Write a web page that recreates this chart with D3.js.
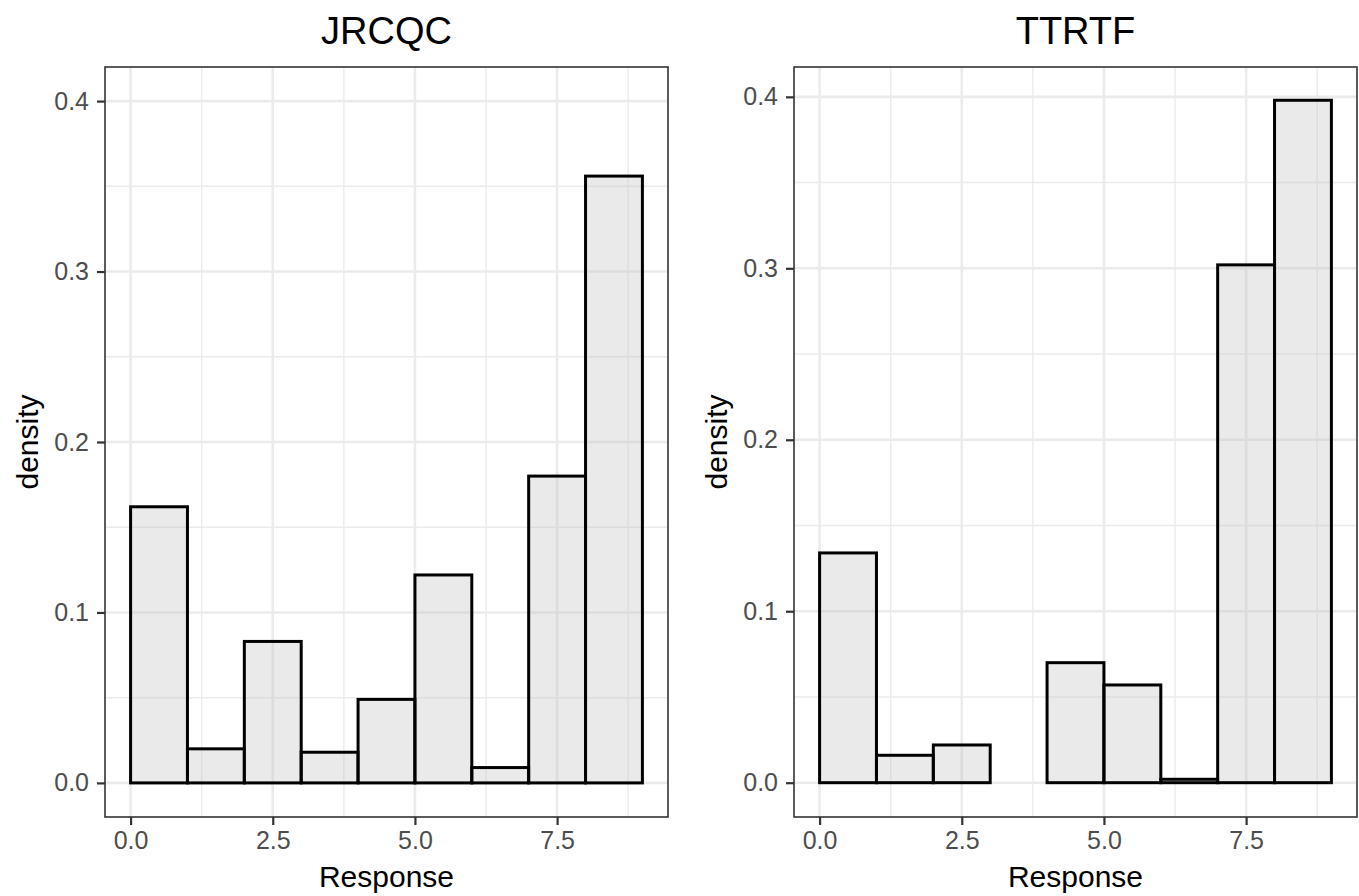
<!DOCTYPE html>
<html>
<head>
<meta charset="utf-8">
<script src="https://cdn.jsdelivr.net/npm/d3@7"></script>
<style>
  html, body { margin: 0; padding: 0; background: #ffffff; }
  svg { display: block; font-family: "Liberation Sans", Arial, Helvetica, sans-serif; }
</style>
</head>
<body>
<svg id="chart" width="1359" height="896"></svg>
<script>
// ---- data ----
const binStarts = [0, 1, 2, 3, 4, 5, 6, 7, 8];
const binWidth = 1;
const panelTitles = ["JRCQC", "TTRTF"];
const jrcqcDensity = [0.162, 0.020, 0.083, 0.018, 0.049, 0.122, 0.009, 0.180, 0.356];
const ttrtfDensity = [0.134, 0.016, 0.022, 0.000, 0.070, 0.057, 0.002, 0.302, 0.398];
const xTicks = [0, 2.5, 5, 7.5];
const xTickLabels = ["0.0", "2.5", "5.0", "7.5"];
const xMinor = [1.25, 3.75, 6.25, 8.75];
const yTicks = [0, 0.1, 0.2, 0.3, 0.4];
const yTickLabels = ["0.0", "0.1", "0.2", "0.3", "0.4"];
const yMinor = [0.05, 0.15, 0.25, 0.35];
const xTitle = "Response";
const yTitle = "density";

// ---- layout ----
const svg = d3.select("#chart");
const panels = [
  { title: panelTitles[0], values: jrcqcDensity, left: 105, right: 668, yMax: 0.42 },
  { title: panelTitles[1], values: ttrtfDensity, left: 794, right: 1357, yMax: 0.4174 }
];
const plotTop = 67, plotBottom = 817;

panels.forEach(p => {
  const x = d3.scaleLinear().domain([-0.45, 9.45]).range([p.left, p.right]);
  const y = d3.scaleLinear().domain([-0.02, p.yMax]).range([plotBottom, plotTop]);
  const g = svg.append("g");

  // background
  g.append("rect").attr("x", p.left).attr("y", plotTop)
    .attr("width", p.right - p.left).attr("height", plotBottom - plotTop).attr("fill", "#ffffff");

  // minor grid
  g.selectAll(".vmin").data(xMinor).enter().append("line")
    .attr("x1", d => x(d)).attr("x2", d => x(d)).attr("y1", plotTop).attr("y2", plotBottom)
    .attr("stroke", "#ebebeb").attr("stroke-width", 1.4);
  g.selectAll(".hmin").data(yMinor).enter().append("line")
    .attr("y1", d => y(d)).attr("y2", d => y(d)).attr("x1", p.left).attr("x2", p.right)
    .attr("stroke", "#ebebeb").attr("stroke-width", 1.4);
  // major grid
  g.selectAll(".vmaj").data(xTicks).enter().append("line")
    .attr("x1", d => x(d)).attr("x2", d => x(d)).attr("y1", plotTop).attr("y2", plotBottom)
    .attr("stroke", "#ebebeb").attr("stroke-width", 2.6);
  g.selectAll(".hmaj").data(yTicks).enter().append("line")
    .attr("y1", d => y(d)).attr("y2", d => y(d)).attr("x1", p.left).attr("x2", p.right)
    .attr("stroke", "#ebebeb").attr("stroke-width", 2.6);

  // bars
  g.selectAll(".bar").data(binStarts.map((s, i) => ({ s, v: p.values[i] }))).enter().append("rect")
    .attr("x", d => x(d.s))
    .attr("width", d => x(d.s + binWidth) - x(d.s))
    .attr("y", d => y(d.v))
    .attr("height", d => y(0) - y(d.v))
    .attr("fill", "rgba(190,190,190,0.32)")
    .attr("stroke", "#000000").attr("stroke-width", 3);

  // panel border
  g.append("rect").attr("x", p.left).attr("y", plotTop)
    .attr("width", p.right - p.left).attr("height", plotBottom - plotTop)
    .attr("fill", "none").attr("stroke", "#333333").attr("stroke-width", 1.6);

  // axes
  const xAxis = d3.axisBottom(x).tickValues(xTicks).tickFormat((d, i) => xTickLabels[i])
    .tickSize(8).tickPadding(6);
  const gx = g.append("g").attr("transform", `translate(0,${plotBottom})`).call(xAxis);
  gx.select(".domain").remove();
  gx.selectAll(".tick line").attr("stroke", "#333333").attr("stroke-width", 2.2);
  gx.selectAll(".tick text").attr("fill", "#4d4d4d").attr("font-size", "25px")
    .attr("font-family", "Liberation Sans, Arial, sans-serif");

  const yAxis = d3.axisLeft(y).tickValues(yTicks).tickFormat((d, i) => yTickLabels[i])
    .tickSize(8).tickPadding(8);
  const gy = g.append("g").attr("transform", `translate(${p.left},0)`).call(yAxis);
  gy.select(".domain").remove();
  gy.selectAll(".tick line").attr("stroke", "#333333").attr("stroke-width", 2.2);
  gy.selectAll(".tick text").attr("fill", "#4d4d4d").attr("font-size", "25px")
    .attr("font-family", "Liberation Sans, Arial, sans-serif");

  // titles
  const cx = (p.left + p.right) / 2;
  g.append("text").attr("x", cx).attr("y", 44).attr("text-anchor", "middle")
    .attr("font-size", "38px").attr("fill", "#000").text(p.title);
  g.append("text").attr("x", cx).attr("y", 887).attr("text-anchor", "middle")
    .attr("font-size", "30px").attr("fill", "#000").text(xTitle);
  g.append("text").attr("transform", `translate(${p.left - 67},${(plotTop + plotBottom) / 2}) rotate(-90)`)
    .attr("text-anchor", "middle").attr("font-size", "30px").attr("fill", "#000").text(yTitle);
});
</script>
</body>
</html>
